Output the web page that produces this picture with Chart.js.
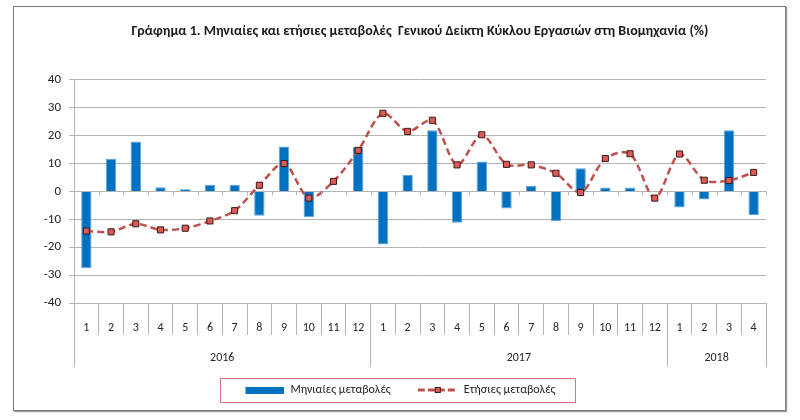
<!DOCTYPE html>
<html lang="el">
<head>
  <meta charset="UTF-8">
  <title>Γράφημα 1</title>
  <script src="https://cdn.jsdelivr.net/npm/chart.js"></script>
  <style>
    body { margin: 0; background: #fff; }
    #frame {
      position: absolute;
      left: 13px; top: 6px;
      width: 771px; height: 403px;
      border: 1px solid #7a7a7a;
      box-shadow: 1px 1px 1px #9a9a9a;
    }
    #chart { display: block; }
  </style>
</head>
<body>
  <div id="frame">
    <canvas id="chart" width="771" height="403"></canvas>
  </div>

  <script>
    // values
    const monthLabels = ['1','2','3','4','5','6','7','8','9','10','11','12',
                         '1','2','3','4','5','6','7','8','9','10','11','12',
                         '1','2','3','4'];
    const yearLabels = ['2016', '2017', '2018'];
    const monthsPerYear = [12, 12, 4];

    const monthlyChange = [-27.5, 11.7, 17.9, 1.5, 0.8, 2.4, 2.4, -8.7, 16.1, -9.2, -0.2, 16.0,
                           -19.0, 5.9, 21.9, -11.2, 10.7, -6.1, 2.0, -10.6, 8.3, 1.4, 1.4, -0.3,
                           -5.8, -2.9, 21.9, -8.5];
    const annualChange = [-14.2, -14.5, -11.6, -13.8, -13.2, -10.6, -6.9, 2.2, 10.0, -2.4, 3.6, 14.7,
                          28.0, 21.5, 25.5, 9.5, 20.3, 9.7, 9.5, 6.5, -0.4, 11.8, 13.5, -2.4,
                          13.4, 4.0, 3.9, 6.8];

    const FONT = 'Carlito, "DejaVu Sans Condensed", sans-serif';
    const BLUE = '#0070C0';
    const RED = '#C0504D';
    const GRID = '#b4b4b4';

    // year ticks: boundaries and centres on a linear axis matching the category one
    let yearBounds = [-0.5];
    let yearCentres = [];
    let pos = -0.5;
    monthsPerYear.forEach(n => {
      yearCentres.push(pos + n / 2);
      pos += n;
      yearBounds.push(pos);
    });

    // legend icons (50px wide, drawn at the right so the items sit further apart)
    const barIcon = document.createElement('canvas');
    barIcon.width = 50; barIcon.height = 7;
    let c = barIcon.getContext('2d');
    c.fillStyle = BLUE;
    c.fillRect(11, 0, 39, 7);

    const lineIcon = document.createElement('canvas');
    lineIcon.width = 50; lineIcon.height = 8;
    c = lineIcon.getContext('2d');
    c.strokeStyle = RED;
    c.lineWidth = 3;
    c.setLineDash([7, 3]);
    c.beginPath(); c.moveTo(10, 4); c.lineTo(50, 4); c.stroke();
    c.setLineDash([]);
    c.fillStyle = '#dd5b57';
    c.fillRect(27, 1, 6, 6);
    c.strokeStyle = '#3a1a1a';
    c.lineWidth = 1;
    c.strokeRect(27.5, 1.5, 5, 5);

    // small tick marks on the zero line and the frame around the legend
    const extras = {
      id: 'extras',
      afterDatasetsDraw(chart) {
        const ctx = chart.ctx;
        const x = chart.scales.x, y = chart.scales.y;
        const y0 = y.getPixelForValue(0);
        ctx.save();
        ctx.strokeStyle = GRID;
        ctx.lineWidth = 1;
        for (let i = 0; i <= monthLabels.length; i++) {
          const px = Math.round(x.getPixelForValue(i - 0.5)) + 0.5;
          ctx.beginPath(); ctx.moveTo(px, y0); ctx.lineTo(px, y0 + 4); ctx.stroke();
        }
        ctx.restore();
      },
      afterDraw(chart) {
        const hb = chart.legend.legendHitBoxes;
        if (!hb || !hb.length) return;
        const first = hb[0], last = hb[hb.length - 1];
        const ctx = chart.ctx;
        const midY = first.top + first.height / 2;
        const left = Math.round(first.left - 14) + 0.5;
        ctx.save();
        ctx.strokeStyle = '#d27a78';
        ctx.lineWidth = 1;
        ctx.strokeRect(left, Math.round(midY - 12) + 0.5,
                       Math.round(last.left + last.width + 20 - left), 24);
        ctx.restore();
      }
    };

    Chart.defaults.font.family = FONT;
    Chart.defaults.color = '#262626';

    new Chart(document.getElementById('chart'), {
      data: {
        labels: monthLabels,
        datasets: [
          {
            type: 'bar',
            label: 'Μηνιαίες μεταβολές',
            data: monthlyChange,
            backgroundColor: BLUE,
            borderColor: '#5fa3dc',
            borderWidth: 1,
            barPercentage: 0.42,
            categoryPercentage: 1,
            xAxisID: 'x',
            order: 1
          },
          {
            type: 'line',
            label: 'Ετήσιες μεταβολές',
            data: annualChange,
            borderColor: RED,
            borderWidth: 2.5,
            borderDash: [7, 4],
            tension: 0.3,
            pointStyle: 'rect',
            pointRadius: 4.3,
            pointBackgroundColor: '#dd5b57',
            pointBorderColor: '#3a1a1a',
            pointBorderWidth: 1,
            xAxisID: 'x',
            order: 0
          }
        ]
      },
      options: {
        responsive: false,
        animation: false,
        layout: { padding: { left: 10, right: 19, top: 0, bottom: 4 } },
        scales: {
          y: {
            min: -40, max: 40,
            ticks: { stepSize: 10, padding: 8, font: { size: 13 } },
            grid: { color: GRID, tickLength: 5 },
            border: { color: GRID },
            afterFit: s => { s.width = 50; }
          },
          x: {
            type: 'category',
            labels: monthLabels,
            offset: true,
            grid: { offset: true, drawOnChartArea: false, color: GRID, tickLength: 32 },
            border: { color: GRID },
            ticks: { maxRotation: 0, autoSkip: false, padding: -14, font: { size: 12 } },
            afterFit: s => { s.height = 32; }
          },
          x2: {
            type: 'linear',
            position: 'bottom',
            weight: 1,
            min: -0.5, max: 27.5,
            afterBuildTicks: s => {
              s.ticks = yearBounds.concat(yearCentres).sort((a, b) => a - b).map(v => ({ value: v }));
            },
            grid: {
              drawOnChartArea: false,
              tickLength: 32,
              color: ctx => yearBounds.includes(ctx.tick && ctx.tick.value) ? GRID : 'rgba(0,0,0,0)'
            },
            border: { display: false },
            ticks: {
              maxRotation: 0, autoSkip: false, padding: -16, font: { size: 12 },
              callback: v => {
                const i = yearCentres.indexOf(v);
                return i >= 0 ? yearLabels[i] : '';
              }
            },
            afterFit: s => { s.height = 32; }
          }
        },
        plugins: {
          title: {
            display: true,
            fullSize: false,
            text: 'Γράφημα 1. Μηνιαίες και ετήσιες μεταβολές  Γενικού Δείκτη Κύκλου Εργασιών στη Βιομηχανία (%)',
            font: { size: 14, weight: 'bold' },
            color: '#1a1a1a',
            padding: { top: 16, bottom: 40 }
          },
          legend: {
            position: 'bottom',
            labels: {
              usePointStyle: true,
              pointStyleWidth: 50,
              padding: 17,
              font: { size: 12 },
              generateLabels: () => [
                { text: 'Μηνιαίες μεταβολές', pointStyle: barIcon, datasetIndex: 0, lineWidth: 0, fontColor: '#262626' },
                { text: 'Ετήσιες μεταβολές', pointStyle: lineIcon, datasetIndex: 1, lineWidth: 0, fontColor: '#262626' }
              ]
            }
          },
          tooltip: { enabled: false }
        }
      },
      plugins: [extras]
    });
  </script>
</body>
</html>
